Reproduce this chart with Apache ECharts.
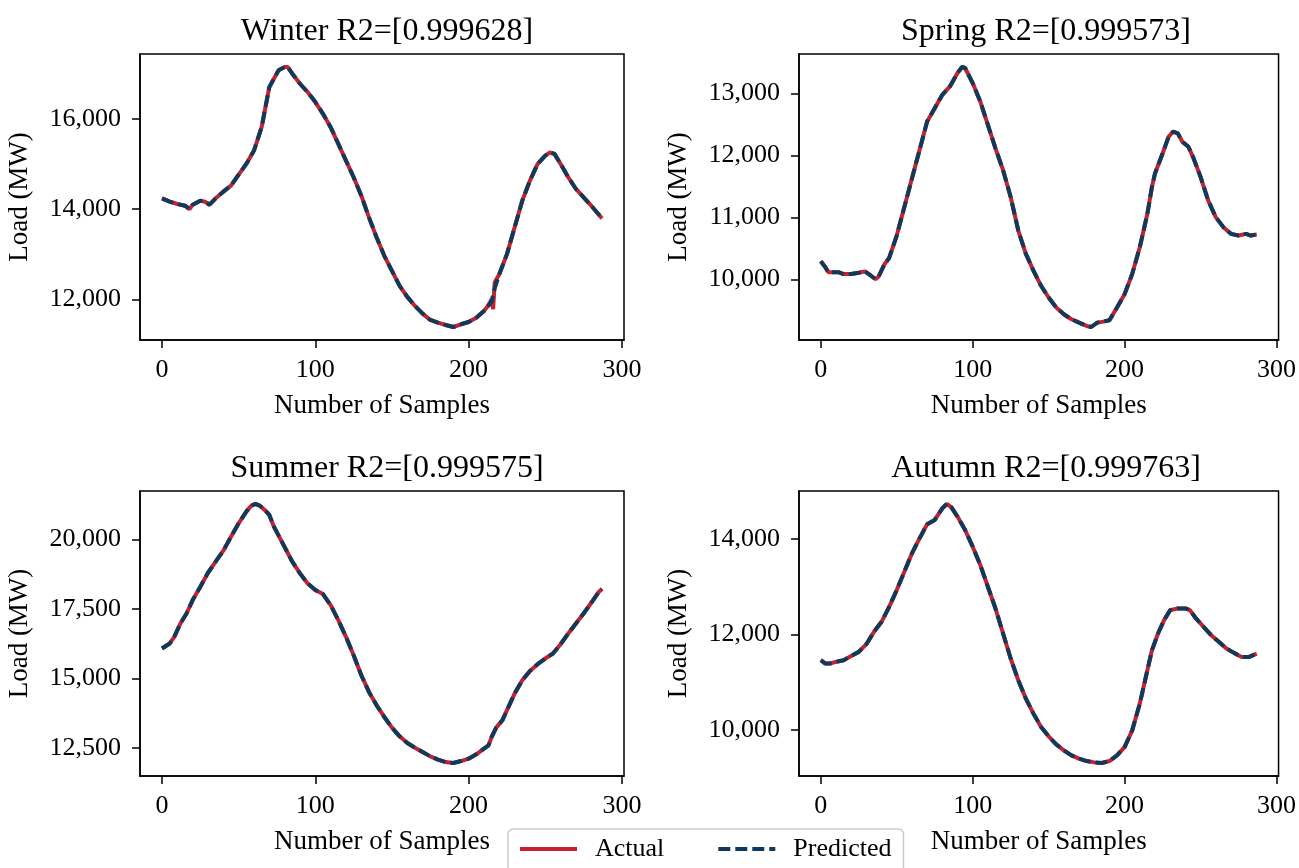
<!DOCTYPE html>
<html>
<head>
<meta charset="utf-8">
<script src="https://cdn.jsdelivr.net/npm/echarts@6/dist/echarts.min.js"></script>
<style>
html,body{margin:0;padding:0;background:#fff;}
#chart{width:1299px;height:868px;}
</style>
</head>
<body>
<div id="chart"></div>
<script>
// ---------------- data ----------------
const seasonTitles = ['Winter R2=[0.999628]', 'Spring R2=[0.999573]', 'Summer R2=[0.999575]', 'Autumn R2=[0.999763]'];
const seriesNames = ['Actual', 'Predicted'];
const xTicks = [0, 100, 200, 300];

const winterSamples = [0,5,10,15,18,20,25,28,31,35,40,45,50,55,60,65,70,73,76,80,82,85,90,95,100,105,110,115,120,125,130,135,140,145,150,155,160,165,170,175,180,185,190,195,200,205,210,213,215,216,217,220,225,230,235,240,245,250,253,256,260,265,270,275,280,285,287];
const winterActual = [14241,14167,14115,14078,14004,14100,14189,14167,14100,14241,14389,14522,14766,15002,15298,15815,16700,16887,17072,17146,17146,16998,16776,16591,16370,16111,15815,15446,15076,14707,14300,13820,13376,12970,12637,12305,12061,11861,11691,11551,11492,11440,11395,11455,11506,11602,11750,11883,12010,11790,12380,12563,13007,13598,14189,14633,15002,15187,15254,15224,15002,14707,14448,14263,14078,13879,13797];
const winterPredicted = [14241,14167,14115,14078,14004,14100,14189,14167,14100,14241,14389,14522,14766,15002,15298,15815,16700,16887,17072,17146,17146,16998,16776,16591,16370,16111,15815,15446,15076,14707,14300,13820,13376,12970,12637,12305,12061,11861,11691,11551,11492,11440,11395,11455,11506,11602,11750,11870,11960,12000,12250,12563,13007,13598,14189,14633,15002,15187,15254,15224,15002,14707,14448,14263,14078,13879,13797];
const winterTicks = [12000, 14000, 16000];

const springSamples = [0,3,5,8,12,15,20,25,29,33,36,38,42,45,50,55,60,65,70,75,80,85,90,93,95,100,105,110,115,120,125,130,135,140,145,150,155,160,165,170,175,178,182,186,190,195,200,205,210,215,218,220,225,229,232,235,238,242,245,250,255,260,265,270,275,280,283,287];
const springActual = [10292,10195,10114,10114,10114,10086,10086,10108,10130,10059,10005,10043,10249,10346,10708,11168,11627,12086,12546,12762,12978,13114,13330,13427,13411,13168,12870,12492,12114,11762,11330,10789,10411,10141,9897,9708,9546,9438,9357,9303,9249,9232,9303,9319,9341,9546,9762,10086,10519,11059,11492,11708,12032,12303,12384,12357,12222,12141,11978,11654,11276,11005,10843,10735,10708,10735,10708,10724];
const springPredicted = [10292,10195,10114,10114,10114,10086,10086,10108,10130,10059,10005,10043,10249,10346,10708,11168,11627,12086,12546,12762,12978,13114,13330,13427,13411,13168,12870,12492,12114,11762,11330,10789,10411,10141,9897,9708,9546,9438,9357,9303,9249,9232,9303,9319,9341,9546,9762,10086,10519,11059,11492,11708,12032,12303,12384,12357,12222,12141,11978,11654,11276,11005,10843,10735,10708,10735,10708,10724];
const springTicks = [10000, 11000, 12000, 13000];

const summerSamples = [0,5,8,12,16,20,25,30,35,40,45,50,55,58,61,64,67,70,73,77,81,85,90,95,100,105,110,115,120,125,130,135,140,145,150,155,160,165,170,175,180,185,190,195,200,205,210,213,215,218,222,226,230,235,240,245,250,255,260,265,270,275,280,285,287];
const summerActual = [16076,16256,16496,16976,17336,17816,18296,18800,19196,19592,20096,20576,20996,21200,21272,21200,21056,20876,20456,20036,19616,19196,18776,18416,18176,18032,17636,17096,16496,15836,15116,14516,14036,13616,13232,12920,12680,12512,12356,12200,12080,11996,11960,12032,12116,12272,12476,12596,12896,13232,13496,13976,14456,14936,15272,15512,15716,15896,16232,16616,16976,17336,17720,18116,18212];
const summerPredicted = [16076,16256,16496,16976,17336,17816,18296,18800,19196,19592,20096,20576,20996,21200,21272,21200,21056,20876,20456,20036,19616,19196,18776,18416,18176,18032,17636,17096,16496,15836,15116,14516,14036,13616,13232,12920,12680,12512,12356,12200,12080,11996,11960,12032,12116,12272,12476,12596,12896,13232,13496,13976,14456,14936,15272,15512,15716,15896,16232,16616,16976,17336,17720,18116,18212];
const summerTicks = [12500, 15000, 17500, 20000];

const autumnSamples = [0,3,6,10,15,20,25,30,35,40,45,50,55,60,65,70,75,80,83,86,90,95,100,105,110,115,120,125,130,135,140,145,150,155,160,165,170,175,180,185,190,195,200,205,210,215,218,222,226,230,235,240,243,247,252,257,262,267,272,277,282,287];
const autumnActual = [11462,11392,11392,11427,11462,11552,11636,11797,12056,12266,12580,12930,13315,13699,14014,14308,14399,14643,14734,14664,14469,14189,13839,13455,13000,12545,12021,11497,11042,10657,10343,10063,9867,9699,9573,9469,9399,9350,9322,9308,9350,9469,9643,9993,10552,11252,11671,12021,12301,12510,12545,12545,12510,12336,12161,11986,11846,11706,11615,11531,11531,11601];
const autumnPredicted = [11462,11392,11392,11427,11462,11552,11636,11797,12056,12266,12580,12930,13315,13699,14014,14308,14399,14643,14734,14664,14469,14189,13839,13455,13000,12545,12021,11497,11042,10657,10343,10063,9867,9699,9573,9469,9399,9350,9322,9308,9350,9469,9643,9993,10552,11252,11671,12021,12301,12510,12545,12545,12510,12336,12161,11986,11846,11706,11615,11531,11531,11601];
const autumnTicks = [10000, 12000, 14000];

// ---------------- chart ----------------
const seasons = [
  {samples: winterSamples, actual: winterActual, pred: winterPredicted, ticks: winterTicks},
  {samples: springSamples, actual: springActual, pred: springPredicted, ticks: springTicks},
  {samples: summerSamples, actual: summerActual, pred: summerPredicted, ticks: summerTicks},
  {samples: autumnSamples, actual: autumnActual, pred: autumnPredicted, ticks: autumnTicks}
];

const FONT = '"Liberation Serif", "Times New Roman", serif';
const RED = '#C8202F';
const NAVY = '#0F3A5C';
const grids = [
  {left: 140, top: 54, width: 484, height: 286},
  {left: 799, top: 54, width: 484, height: 286},
  {left: 140, top: 491, width: 484, height: 285},
  {left: 799, top: 491, width: 484, height: 285}
];

const padMin = v => v.min - 0.05 * (v.max - v.min);
const padMax = v => v.max + 0.05 * (v.max - v.min);
const fmt = v => Math.round(v).toString().replace(/\B(?=(\d{3})+(?!\d))/g, ',');

const option = {
  animation: false,
  backgroundColor: '#fff',
  textStyle: {fontFamily: FONT},
  title: grids.map((g, i) => ({
    text: seasonTitles[i],
    left: g.left + g.width / 2,
    top: g.top - 43,
    textAlign: 'center',
    textStyle: {fontFamily: FONT, fontSize: 32, fontWeight: 'normal', color: '#000'}
  })),
  grid: grids.map(g => Object.assign({show: true, borderColor: '#000', borderWidth: 1.5, backgroundColor: 'transparent'}, g)),
  legend: {
    data: seriesNames,
    left: 508, top: 829,
    padding: [7, 12, 14, 10],
    itemWidth: 57, itemHeight: 14, itemGap: 52,
    backgroundColor: '#fff',
    borderColor: '#cccccc', borderWidth: 1.5, borderRadius: 5,
    itemStyle: {color: 'rgba(0,0,0,0)', borderColor: 'rgba(0,0,0,0)', borderWidth: 0, opacity: 0},
    lineStyle: {width: 4},
    textStyle: {fontFamily: FONT, fontSize: 26, color: '#000', padding: [0, 0, 0, 13]}
  },
  xAxis: grids.map((g, i) => ({
    type: 'value', gridIndex: i,
    min: padMin, max: padMax,
    name: 'Number of Samples', nameLocation: 'middle', nameGap: 52,
    nameTextStyle: {fontFamily: FONT, fontSize: 27, color: '#000'},
    axisLine: {show: true, onZero: false, lineStyle: {color: '#000', width: 1.5}},
    axisTick: {show: true, length: 8, lineStyle: {color: '#000', width: 1.5}, customValues: xTicks},
    axisLabel: {fontFamily: FONT, fontSize: 26, color: '#000', margin: 17, customValues: xTicks, formatter: v => String(v)},
    splitLine: {show: false}
  })),
  yAxis: grids.map((g, i) => ({
    type: 'value', gridIndex: i,
    min: padMin, max: padMax,
    name: 'Load (MW)', nameLocation: 'middle', nameGap: 107,
    nameTextStyle: {fontFamily: FONT, fontSize: 27, color: '#000'},
    axisLine: {show: true, onZero: false, lineStyle: {color: '#000', width: 1.5}},
    axisTick: {show: true, length: 8, lineStyle: {color: '#000', width: 1.5}, customValues: seasons[i].ticks},
    axisLabel: {fontFamily: FONT, fontSize: 26, color: '#000', margin: 19, customValues: seasons[i].ticks, formatter: fmt},
    splitLine: {show: false}
  })),
  series: []
};

seasons.forEach((s, i) => {
  option.series.push({
    name: 'Actual', type: 'line', xAxisIndex: i, yAxisIndex: i,
    data: s.samples.map((x, k) => [x, s.actual[k]]),
    symbol: 'none', showSymbol: false, z: 2,
    lineStyle: {color: RED, width: 4, type: 'solid'},
    itemStyle: {color: RED}
  });
  option.series.push({
    name: 'Predicted', type: 'line', xAxisIndex: i, yAxisIndex: i,
    data: s.samples.map((x, k) => [x, s.pred[k]]),
    symbol: 'none', showSymbol: false, z: 3,
    lineStyle: {color: NAVY, width: 4, type: [12, 5]},
    itemStyle: {color: NAVY}
  });
});

const chart = echarts.init(document.getElementById('chart'), null, {renderer: 'canvas'});
chart.setOption(option);
</script>
</body>
</html>
